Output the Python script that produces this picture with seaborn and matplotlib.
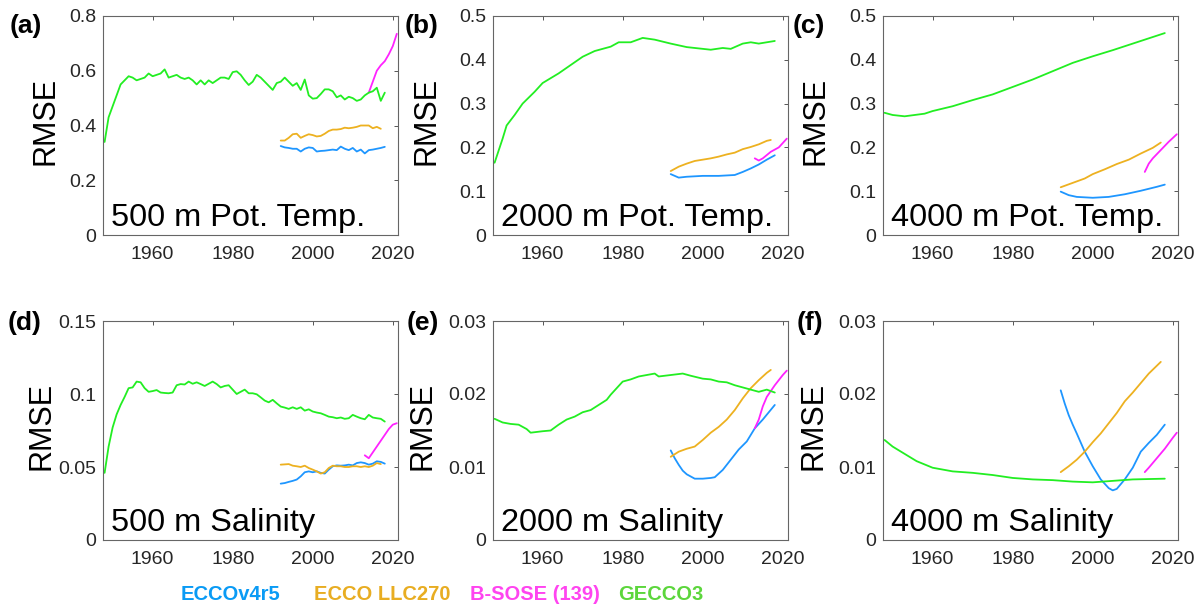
import numpy as np
import matplotlib
matplotlib.use('Agg')
import matplotlib.pyplot as plt
import matplotlib.ticker as ticker
import seaborn as sns

# ---- data ----
yr_annual = np.arange(1948, 2019)
yr_ecco = np.arange(1992, 2019)
yr_llc = np.arange(1992, 2018)

# (a) 500 m pot. temp.
gecco_a = [0.34, 0.43, 0.47, 0.51, 0.55, 0.565, 0.58, 0.575, 0.565, 0.57,
           0.575, 0.59, 0.58, 0.585, 0.59, 0.605, 0.575, 0.58, 0.585, 0.575,
           0.57, 0.575, 0.565, 0.55, 0.565, 0.55, 0.565, 0.555, 0.565, 0.575,
           0.575, 0.57, 0.595, 0.598, 0.585, 0.565, 0.548, 0.56, 0.585, 0.575,
           0.56, 0.545, 0.53, 0.555, 0.56, 0.575, 0.56, 0.545, 0.555, 0.53,
           0.568, 0.51, 0.498, 0.5, 0.515, 0.532, 0.532, 0.525, 0.503, 0.51,
           0.495, 0.505, 0.5, 0.49, 0.495, 0.51, 0.52, 0.525, 0.538, 0.49, 0.52]
ecco_a = [0.325, 0.32, 0.318, 0.315, 0.315, 0.305, 0.315, 0.32, 0.318, 0.305,
          0.307, 0.308, 0.31, 0.312, 0.31, 0.323, 0.315, 0.31, 0.318, 0.305,
          0.312, 0.298, 0.31, 0.312, 0.315, 0.318, 0.322]
llc_a = [0.345, 0.345, 0.355, 0.368, 0.37, 0.355, 0.362, 0.368, 0.365, 0.36,
         0.362, 0.37, 0.38, 0.385, 0.385, 0.387, 0.392, 0.39, 0.392, 0.395,
         0.4, 0.4, 0.4, 0.39, 0.395, 0.388]
bsose_a_yr = [2014, 2015, 2016, 2017, 2018, 2019, 2020, 2021]
bsose_a = [0.52, 0.56, 0.6, 0.62, 0.635, 0.66, 0.69, 0.735]

# (b) 2000 m pot. temp.
gecco_b_yr = [1948, 1950, 1951, 1953, 1955, 1958, 1960, 1964, 1967, 1970, 1973, 1977, 1979,
              1982, 1985, 1988, 1992, 1996, 2000, 2002, 2005, 2007, 2010, 2012, 2014, 2018]
gecco_b = [0.165, 0.22, 0.25, 0.274, 0.3, 0.327, 0.347, 0.369, 0.388, 0.407, 0.42, 0.43, 0.44,
           0.44, 0.45, 0.446, 0.437, 0.429, 0.425, 0.423, 0.427, 0.425, 0.437, 0.44, 0.437, 0.443]
ecco_b_yr = [1992, 1994, 1996, 2000, 2004, 2008, 2010, 2012, 2014, 2016, 2018]
ecco_b = [0.139, 0.131, 0.133, 0.135, 0.135, 0.137, 0.144, 0.152, 0.161, 0.172, 0.182]
llc_b_yr = [1992, 1994, 1996, 1998, 2000, 2002, 2004, 2006, 2008, 2010, 2012, 2014, 2016, 2017]
llc_b = [0.146, 0.156, 0.163, 0.169, 0.172, 0.175, 0.179, 0.184, 0.188, 0.196, 0.201, 0.207, 0.215, 0.217]
bsose_b_yr = [2013, 2014, 2015, 2017, 2019, 2021]
bsose_b = [0.175, 0.17, 0.175, 0.19, 0.2, 0.22]

# (c) 4000 m pot. temp.
gecco_c_yr = [1948, 1950, 1953, 1958, 1960, 1965, 1970, 1975, 1980, 1985, 1990, 1995, 2000, 2005, 2010, 2015, 2018]
gecco_c = [0.279, 0.274, 0.271, 0.277, 0.283, 0.294, 0.308, 0.321, 0.338, 0.355, 0.374, 0.393, 0.408, 0.422, 0.437, 0.452, 0.461]
ecco_c_yr = [1992, 1994, 1996, 2000, 2004, 2008, 2012, 2016, 2018]
ecco_c = [0.099, 0.091, 0.087, 0.085, 0.087, 0.093, 0.101, 0.11, 0.115]
llc_c_yr = [1992, 1995, 1998, 2000, 2003, 2006, 2009, 2012, 2015, 2017]
llc_c = [0.109, 0.119, 0.129, 0.139, 0.15, 0.162, 0.172, 0.186, 0.199, 0.211]
bsose_c_yr = [2013, 2014, 2015, 2017, 2019, 2021]
bsose_c = [0.144, 0.163, 0.175, 0.194, 0.213, 0.23]

# (d) 500 m salinity
gecco_d = [0.046, 0.064, 0.077, 0.086, 0.0925, 0.098, 0.104, 0.1045, 0.1085, 0.108,
           0.104, 0.1015, 0.102, 0.1027, 0.101, 0.1007, 0.1005, 0.101, 0.106, 0.1068,
           0.1065, 0.1085, 0.107, 0.108, 0.1068, 0.1055, 0.107, 0.1085, 0.1068, 0.1045,
           0.1055, 0.106, 0.103, 0.1, 0.1015, 0.103, 0.1005, 0.1005, 0.0998, 0.0977,
           0.0955, 0.0943, 0.096, 0.0936, 0.0914, 0.0907, 0.0898, 0.0909, 0.0898, 0.0909,
           0.0886, 0.0895, 0.088, 0.0873, 0.0868, 0.0857, 0.0845, 0.0841, 0.0834, 0.0839,
           0.083, 0.0834, 0.0857, 0.0845, 0.0834, 0.0827, 0.0857, 0.0839, 0.0834, 0.083, 0.0811]
ecco_d = [0.0386, 0.039, 0.0398, 0.0405, 0.0414, 0.0436, 0.0464, 0.047, 0.0464, 0.047,
          0.046, 0.0455, 0.0482, 0.0505, 0.0511, 0.0509, 0.0511, 0.0516, 0.0511, 0.0527,
          0.0532, 0.0527, 0.0516, 0.0523, 0.0539, 0.0535, 0.0523]
llc_d = [0.0516, 0.0518, 0.052, 0.0509, 0.0505, 0.05, 0.0509, 0.0493, 0.0482, 0.047,
         0.0455, 0.0464, 0.0493, 0.0509, 0.0505, 0.0505, 0.05, 0.05, 0.0505, 0.0505,
         0.05, 0.0505, 0.05, 0.0509, 0.0527, 0.052]
bsose_d_yr = [2013, 2014, 2015, 2016, 2017, 2018, 2019, 2020, 2021]
bsose_d = [0.058, 0.056, 0.06, 0.064, 0.068, 0.072, 0.076, 0.079, 0.08]

# (e) 2000 m salinity
gecco_e_yr = [1948, 1950, 1952, 1954, 1956, 1957, 1960, 1962, 1964, 1966, 1968, 1970,
              1972, 1974, 1976, 1977, 1978, 1980, 1982, 1984, 1986, 1988, 1989, 1992,
              1995, 1997, 2000, 2002, 2004, 2006, 2008, 2010, 2012, 2014, 2016, 2018]
gecco_e = [0.0166, 0.0161, 0.0159, 0.0158, 0.0152, 0.0147, 0.0149, 0.015, 0.0158, 0.0165, 0.0169, 0.0175,
           0.0178, 0.0185, 0.0192, 0.0199, 0.0205, 0.0217, 0.022, 0.0224, 0.0226, 0.0228, 0.0224, 0.0226,
           0.0228, 0.0225, 0.0221, 0.022, 0.0217, 0.0216, 0.0212, 0.0209, 0.0206, 0.0203, 0.0206, 0.0202]
ecco_e_yr = [1992, 1993, 1994, 1995, 1996, 1998, 2000, 2002, 2003, 2005, 2007, 2009, 2011, 2013, 2015, 2018]
ecco_e = [0.01227, 0.0112, 0.0103, 0.0095, 0.009, 0.0084, 0.0084, 0.0085, 0.0086, 0.0096,
          0.011, 0.0124, 0.0135, 0.0153, 0.0165, 0.0185]
llc_e_yr = [1992, 1994, 1996, 1998, 2000, 2002, 2004, 2006, 2008, 2010, 2012, 2014, 2016, 2017]
llc_e = [0.0114, 0.0121, 0.0125, 0.0128, 0.0137, 0.0147, 0.0155, 0.0165, 0.0178, 0.0194, 0.0208, 0.0219, 0.0229, 0.0233]
bsose_e_yr = [2013, 2014, 2015, 2016, 2018, 2020, 2021]
bsose_e = [0.0153, 0.0165, 0.0183, 0.0196, 0.0212, 0.0226, 0.0232]

# (f) 4000 m salinity
gecco_f_yr = [1948, 1950, 1953, 1956, 1960, 1965, 1970, 1975, 1980, 1985, 1990, 1995, 2000, 2005, 2010, 2018]
gecco_f = [0.0137, 0.0128, 0.0118, 0.0108, 0.0099, 0.0094, 0.0092, 0.0089, 0.0085, 0.0083,
           0.0082, 0.008, 0.0079, 0.0081, 0.0083, 0.0084]
ecco_f_yr = [1992, 1993, 1994, 1995, 1996, 1998, 2000, 2002, 2004, 2005, 2006, 2008, 2010, 2012, 2014, 2016, 2018]
ecco_f = [0.0205, 0.0187, 0.0171, 0.0158, 0.0146, 0.0121, 0.0101, 0.0083, 0.0071, 0.0068,
          0.007, 0.0083, 0.0099, 0.0121, 0.0133, 0.0144, 0.0158]
llc_f_yr = [1992, 1994, 1996, 1998, 2000, 2002, 2004, 2006, 2008, 2010, 2012, 2014, 2017]
llc_f = [0.0093, 0.0101, 0.011, 0.0121, 0.0134, 0.0146, 0.016, 0.0174, 0.019, 0.0202, 0.0215, 0.0228, 0.0244]
bsose_f_yr = [2013, 2014, 2016, 2018, 2020, 2021]
bsose_f = [0.0093, 0.0099, 0.0112, 0.0125, 0.014, 0.0147]

names = ['ECCOv4r5', 'ECCO LLC270', 'B-SOSE (139)', 'GECCO3']
line_colors = ['#1e96ff', '#edb120', '#ff22ff', '#22ee22']
text_colors = ['#0a9bf5', '#e8ad22', '#ff44f0', '#5cd63c']

panel_tags = ['(a)', '(b)', '(c)', '(d)', '(e)', '(f)']
panel_titles = ['500 m Pot. Temp.', '2000 m Pot. Temp.', '4000 m Pot. Temp.',
                '500 m Salinity', '2000 m Salinity', '4000 m Salinity']
y_max = [0.8, 0.5, 0.5, 0.15, 0.03, 0.03]
y_step = [0.2, 0.1, 0.1, 0.05, 0.01, 0.01]

series = [
    [(yr_ecco, ecco_a), (yr_llc, llc_a), (bsose_a_yr, bsose_a), (yr_annual, gecco_a)],
    [(ecco_b_yr, ecco_b), (llc_b_yr, llc_b), (bsose_b_yr, bsose_b), (gecco_b_yr, gecco_b)],
    [(ecco_c_yr, ecco_c), (llc_c_yr, llc_c), (bsose_c_yr, bsose_c), (gecco_c_yr, gecco_c)],
    [(yr_ecco, ecco_d), (yr_llc, llc_d), (bsose_d_yr, bsose_d), (yr_annual, gecco_d)],
    [(ecco_e_yr, ecco_e), (llc_e_yr, llc_e), (bsose_e_yr, bsose_e), (gecco_e_yr, gecco_e)],
    [(ecco_f_yr, ecco_f), (llc_f_yr, llc_f), (bsose_f_yr, bsose_f), (gecco_f_yr, gecco_f)],
]

# ---- layout (pixels) ----
sns.set_theme(style='white')
plt.rcParams['font.family'] = ['Liberation Sans', 'DejaVu Sans']

W, H = 1203, 611
fig = plt.figure(figsize=(W / 100, H / 100), dpi=100)
col_left = [103, 493, 883]
row_top = [16, 321]
ax_w, ax_h = 295, 219
ylabel_off = [42, 51, 53, 46, 55, 55]   # right edge of the rotated label, px left of spine
tag_x = [10, 405, 793, 8, 407, 797]
tag_y = [26, 26, 26, 323, 323, 323]
dark = '#262626'

fmt = ticker.FuncFormatter(lambda v, p: f'{v:g}')

for i in range(6):
    l = col_left[i % 3]
    t = row_top[i // 3]
    ax = fig.add_axes([l / W, 1 - (t + ax_h) / H, ax_w / W, ax_h / H])
    for (x, y), c in zip(series[i], line_colors):
        sns.lineplot(x=x, y=y, color=c, lw=1.3, ax=ax)
    ax.set_xlim(1947.6, 2021.3)
    ax.set_ylim(0, y_max[i])
    ax.set_xticks([1960, 1980, 2000, 2020])
    ax.set_yticks(np.arange(0, y_max[i] + 1e-9, y_step[i]))
    ax.yaxis.set_major_formatter(fmt)
    ax.tick_params(direction='in', length=3, width=0.7, top=True, right=True,
                   labelsize=14, color='#555555', labelcolor=dark)
    ax.tick_params(axis='x', pad=8)
    ax.tick_params(axis='y', pad=5)
    for s in ax.spines.values():
        s.set_color('#666666')
        s.set_linewidth(0.8)
    ax.set_ylabel('RMSE', fontsize=22, color='black')
    ax.yaxis.set_label_coords(-ylabel_off[i] / ax_w, 0.52)
    ax.set_xlabel('')
    ax.text(0.028, 0.01, panel_titles[i], transform=ax.transAxes, fontsize=23.4,
            ha='left', va='bottom', color='black')
    fig.text(tag_x[i] / W, 1 - tag_y[i] / H, panel_tags[i], fontsize=19,
             fontweight='bold', ha='left', va='center', color='black')

# coloured legend text along the bottom
legend_x = [230, 382, 535, 661]
for name, c, x in zip(names, text_colors, legend_x):
    fig.text(x / W, 1 - 594 / H, name, color=c, fontsize=14.5, fontweight='bold',
             ha='center', va='center')

fig.savefig('out.png', dpi=100)
